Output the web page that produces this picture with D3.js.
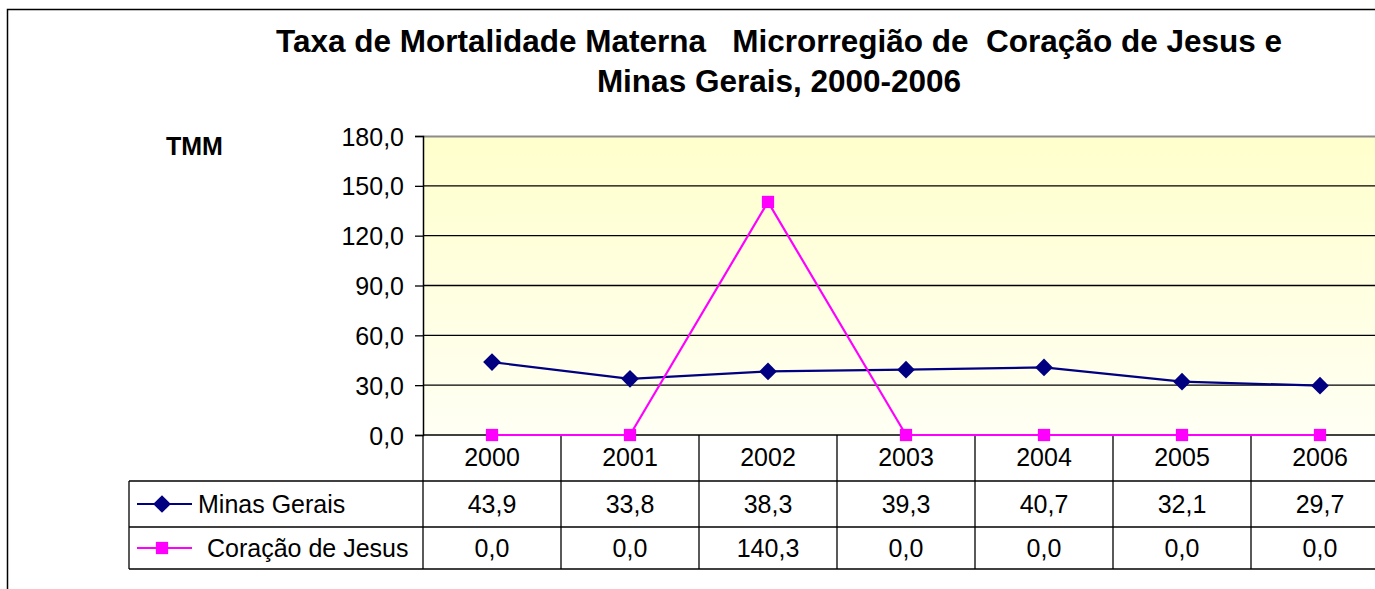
<!DOCTYPE html>
<html>
<head>
<meta charset="utf-8">
<script src="https://cdn.jsdelivr.net/npm/d3@7"></script>
<style>
    body { margin: 0; background: #fff; }
    svg { display: block; font-family: Arial, 'Liberation Sans', sans-serif; }
    .title { white-space: pre; }
</style>
</head>
<body>
<div class="chart"></div>
<script>
(function() {
    'use strict';

    // DATA *************************************************************************
    var years = ['2000', '2001', '2002', '2003', '2004', '2005', '2006'];
    var minasGerais = [43.9, 33.8, 38.3, 39.3, 40.7, 32.1, 29.7];
    var coracaoJesus = [0.0, 0.0, 140.3, 0.0, 0.0, 0.0, 0.0];
    var yTicks = [0, 30, 60, 90, 120, 150, 180];
    var seriesNames = ['Minas Gerais', 'Coração de Jesus'];
    var titleLines = ['Taxa de Mortalidade Materna   Microrregião de  Coração de Jesus e',
                      'Minas Gerais, 2000-2006'];

    var series = [
        {name: seriesNames[0], values: minasGerais, color: '#000080', marker: 'diamond'},
        {name: seriesNames[1], values: coracaoJesus, color: '#ff00ff', marker: 'square'}
    ];

    // SVG ****************************************************************************
    var W = 1375, H = 589;
    var svg = d3.select('.chart').append('svg')
                .attr('width', W)
                .attr('height', H);

    // plot area (extends past the right edge like the original)
    var plot = {left: 423, top: 136, bottom: 435, band: 138};
    var rowH = [46, 46, 42];   // header, row 1, row 2
    var tableLeft = 129;

    // brazilian number format
    var locale = d3.formatLocale({decimal: ',', thousands: '.', grouping: [3], currency: ['R$', '']});
    var fmt = locale.format('.1f');

    // SCALES
    var xScale = d3.scaleBand()
                    .domain(years)
                    .range([plot.left, plot.left + plot.band * years.length]);
    var yScale = d3.scaleLinear()
                    .domain([0, 180])
                    .range([plot.bottom, plot.top]);

    // OUTER BORDER
    svg.append('rect')
        .attr('x', 7.5).attr('y', 9.5)
        .attr('width', W + 20).attr('height', H + 20)
        .attr('fill', 'none')
        .attr('stroke', '#000')
        .attr('stroke-width', 1.5);

    // BACKGROUND GRADIENT
    var grad = svg.append('defs').append('linearGradient')
                    .attr('id', 'bg')
                    .attr('x1', 0).attr('y1', 0).attr('x2', 0).attr('y2', 1);
    grad.append('stop').attr('offset', '0%').attr('stop-color', '#ffffcc');
    grad.append('stop').attr('offset', '100%').attr('stop-color', '#fffff4');

    svg.append('rect')
        .attr('x', plot.left)
        .attr('y', plot.top)
        .attr('width', xScale.range()[1] - plot.left)
        .attr('height', plot.bottom - plot.top)
        .attr('fill', 'url(#bg)');

    // TITLE
    svg.append('g')
        .selectAll('text')
        .data(titleLines)
        .enter()
        .append('text')
        .attr('class', 'title')
        .attr('x', 779)
        .attr('y', function(d, i) { return 52 + i * 40; })
        .attr('text-anchor', 'middle')
        .attr('font-size', 31.5)
        .attr('font-weight', 'bold')
        .text(function(d) { return d; });

    // Y LABEL
    svg.append('text')
        .attr('x', 166)
        .attr('y', 155)
        .attr('font-size', 25)
        .attr('font-weight', 'bold')
        .text('TMM');

    // GRIDLINES
    svg.append('g')
        .selectAll('line')
        .data(yTicks.filter(function(d) { return d > 0 && d < 180; }))
        .enter()
        .append('line')
        .attr('x1', plot.left).attr('x2', W)
        .attr('y1', function(d) { return yScale(d); })
        .attr('y2', function(d) { return yScale(d); })
        .attr('stroke', '#000')
        .attr('stroke-width', 1.3);

    // plot top border
    svg.append('line')
        .attr('x1', plot.left).attr('x2', W)
        .attr('y1', plot.top + 0.5).attr('y2', plot.top + 0.5)
        .attr('stroke', '#8c8c8c')
        .attr('stroke-width', 2);

    // Y AXIS
    var yAxis = d3.axisLeft(yScale)
                    .tickValues(yTicks)
                    .tickFormat(fmt)
                    .tickSize(8)
                    .tickPadding(11);
    var yAxisG = svg.append('g')
                    .attr('transform', 'translate(' + plot.left + ',0)')
                    .call(yAxis);
    yAxisG.select('.domain').attr('stroke', '#000').attr('stroke-width', 1.5);
    yAxisG.selectAll('.tick line').attr('stroke', '#000').attr('stroke-width', 1.3);
    yAxisG.selectAll('.tick text')
            .attr('font-size', 25)
            .attr('font-family', 'Arial, "Liberation Sans", sans-serif')
            .attr('fill', '#000')
            .attr('dy', '0.36em');

    // X AXIS LINE
    svg.append('line')
        .attr('x1', plot.left).attr('x2', W)
        .attr('y1', plot.bottom).attr('y2', plot.bottom)
        .attr('stroke', '#000')
        .attr('stroke-width', 1.5);

    // DATA TABLE *********************************************************************
    var rowY = [plot.bottom, plot.bottom + rowH[0], plot.bottom + rowH[0] + rowH[1],
                plot.bottom + rowH[0] + rowH[1] + rowH[2]];
    var table = svg.append('g').attr('class', 'table');

    // vertical lines between columns
    var colEdges = years.map(function(d) { return xScale(d); });
    colEdges.push(xScale.range()[1]);
    table.selectAll('line.col')
        .data(colEdges)
        .enter()
        .append('line')
        .attr('class', 'col')
        .attr('x1', function(d) { return d; })
        .attr('x2', function(d) { return d; })
        .attr('y1', plot.bottom).attr('y2', rowY[3])
        .attr('stroke', '#000')
        .attr('stroke-width', 1.3);

    // horizontal row lines
    table.selectAll('line.row')
        .data([rowY[1], rowY[2], rowY[3]])
        .enter()
        .append('line')
        .attr('class', 'row')
        .attr('x1', tableLeft).attr('x2', W)
        .attr('y1', function(d) { return d; })
        .attr('y2', function(d) { return d; })
        .attr('stroke', '#000')
        .attr('stroke-width', 1.3);
    table.append('line')
        .attr('x1', tableLeft).attr('x2', tableLeft)
        .attr('y1', rowY[1]).attr('y2', rowY[3])
        .attr('stroke', '#000')
        .attr('stroke-width', 1.3);

    // year labels
    table.selectAll('text.year')
        .data(years)
        .enter()
        .append('text')
        .attr('class', 'year')
        .attr('x', function(d) { return xScale(d) + xScale.bandwidth() / 2; })
        .attr('y', rowY[0] + 31)
        .attr('text-anchor', 'middle')
        .attr('font-size', 25)
        .text(function(d) { return d; });

    // marker symbols
    var symbolFor = {
        diamond: d3.symbol().type(d3.symbolDiamond2).size(200),
        square: d3.symbol().type(d3.symbolSquare).size(150)
    };

    series.forEach(function(s, si) {
        var yMid = (rowY[si + 1] + rowY[si + 2]) / 2;

        // values
        table.selectAll('text.v' + si)
            .data(s.values)
            .enter()
            .append('text')
            .attr('class', 'v' + si)
            .attr('x', function(d, i) { return xScale(years[i]) + xScale.bandwidth() / 2; })
            .attr('y', yMid + 9)
            .attr('text-anchor', 'middle')
            .attr('font-size', 25)
            .text(function(d) { return fmt(d); });

        // legend key
        table.append('line')
            .attr('x1', 137).attr('x2', 192)
            .attr('y1', yMid).attr('y2', yMid)
            .attr('stroke', s.color)
            .attr('stroke-width', 2.2);
        table.append('path')
            .attr('d', symbolFor[s.marker])
            .attr('transform', 'translate(162,' + yMid + ')')
            .attr('fill', s.color);
        table.append('text')
            .attr('x', si === 0 ? 198 : 207)
            .attr('y', yMid + 9)
            .attr('font-size', 25)
            .text(s.name);
    });

    // LINES AND MARKERS **************************************************************
    var line = d3.line()
                .x(function(d, i) { return xScale(years[i]) + xScale.bandwidth() / 2; })
                .y(function(d) { return yScale(d); });

    // navy first, magenta drawn over it
    series.forEach(function(s) {
        var g = svg.append('g');
        g.append('path')
            .datum(s.values)
            .attr('d', line)
            .attr('fill', 'none')
            .attr('stroke', s.color)
            .attr('stroke-width', 2.2);
        g.selectAll('path.marker')
            .data(s.values)
            .enter()
            .append('path')
            .attr('class', 'marker')
            .attr('d', symbolFor[s.marker])
            .attr('transform', function(d, i) {
                return 'translate(' + (xScale(years[i]) + xScale.bandwidth() / 2) + ',' + yScale(d) + ')';
            })
            .attr('fill', s.color);
    });

}());
</script>
</body>
</html>
